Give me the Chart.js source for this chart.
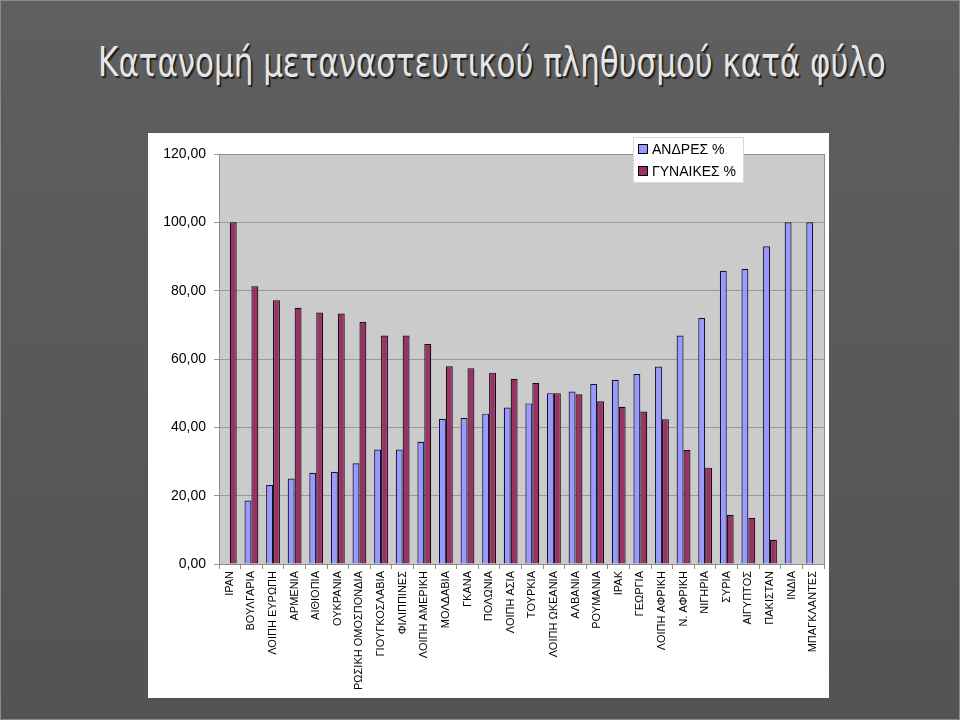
<!DOCTYPE html>
<html>
<head>
<meta charset="utf-8">
<script src="https://cdn.jsdelivr.net/npm/chart.js@4"></script>
<style>
  html, body { margin: 0; padding: 0; }
  body {
    width: 960px; height: 720px; overflow: hidden; position: relative;
    background: linear-gradient(#5f5f5f, #535353);
    box-sizing: border-box; border: 1px solid #8a8a8a;
  }
  #title {
    position: absolute; left: 11px; top: 38px; width: 960px; text-align: center;
    font-family: "DejaVu Sans Condensed", "Liberation Sans Narrow", sans-serif;
    font-size: 40px; color: #e6e6e6;
    text-shadow: 2px 2px 1px #1e1e1e;
  }
  #title span { display: inline-block; transform: scaleX(0.86); }
  #panel {
    position: absolute; left: 147px; top: 132px; width: 681px; height: 565px;
    background: #fff;
  }
</style>
</head>
<body>
<div id="title"><span>Κατανομή μεταναστευτικού πληθυσμού κατά φύλο</span></div>
<div id="panel"><canvas id="chart" width="681" height="565"></canvas></div>
<script>
let countries = ['ΙΡΑΝ','ΒΟΥΛΓΑΡΙΑ','ΛΟΙΠΗ ΕΥΡΩΠΗ','ΑΡΜΕΝΙΑ','ΑΙΘΙΟΠΙΑ','ΟΥΚΡΑΝΙΑ',
  'ΡΩΣΙΚΗ ΟΜΟΣΠΟΝΔΙΑ','ΓΙΟΥΓΚΟΣΛΑΒΙΑ','ΦΙΛΙΠΠΙΝΕΣ','ΛΟΙΠΗ ΑΜΕΡΙΚΗ','ΜΟΛΔΑΒΙΑ','ΓΚΑΝΑ',
  'ΠΟΛΩΝΙΑ','ΛΟΙΠΗ ΑΣΙΑ','ΤΟΥΡΚΙΑ','ΛΟΙΠΗ ΩΚΕΑΝΙΑ','ΑΛΒΑΝΙΑ','ΡΟΥΜΑΝΙΑ','ΙΡΑΚ',
  'ΓΕΩΡΓΙΑ','ΛΟΙΠΗ ΑΦΡΙΚΗ','Ν. ΑΦΡΙΚΗ','ΝΙΓΗΡΙΑ','ΣΥΡΙΑ','ΑΙΓΥΠΤΟΣ','ΠΑΚΙΣΤΑΝ',
  'ΙΝΔΙΑ','ΜΠΑΓΚΛΑΝΤΕΣ'];

let men = [0, 18.6, 23.1, 25.0, 26.7, 27.0, 29.5, 33.5, 33.5, 35.8, 42.5, 42.7,
  44.0, 45.8, 47.0, 50.0, 50.5, 52.7, 53.9, 55.6, 57.8, 66.9, 72.0, 85.8, 86.4,
  93.0, 100, 100];

let women = [100, 81.3, 77.2, 75.0, 73.6, 73.3, 70.8, 66.9, 66.9, 64.4, 57.9, 57.3,
  56.0, 54.2, 53.0, 50.0, 49.7, 47.6, 46.0, 44.6, 42.4, 33.4, 28.2, 14.4, 13.5,
  7.1, 0, 0];

let seriesNames = ['ΑΝΔΡΕΣ %', 'ΓΥΝΑΙΚΕΣ %'];

// grey plot area + border, then the boxed legend on top
let plotBg = {
  id: 'plotBg',
  beforeDraw(chart) {
    let a = chart.chartArea, c = chart.ctx;
    c.save();
    c.fillStyle = '#cbcbcb';
    c.fillRect(a.left, a.top, a.right - a.left, a.bottom - a.top);
    c.restore();
  },
  afterDraw(chart) {
    let a = chart.chartArea, c = chart.ctx;
    c.save();
    c.strokeStyle = '#8c8c8c';
    c.lineWidth = 1;
    c.strokeRect(a.left + 0.5, a.top + 0.5, a.right - a.left, a.bottom - a.top);

    // legend
    let lx = 485, ly = 4, lw = 110, lh = 45;
    c.fillStyle = '#fff';
    c.fillRect(lx, ly, lw, lh);
    c.strokeStyle = '#d8d8d8';
    c.strokeRect(lx + 0.5, ly + 0.5, lw, lh);
    c.font = '14px "Liberation Sans", Arial, sans-serif';
    c.textBaseline = 'middle';
    chart.data.datasets.forEach((ds, i) => {
      let y = ly + 12 + i * 22;
      c.fillStyle = ds.backgroundColor;
      c.fillRect(lx + 5, y - 5, 10, 10);
      c.strokeStyle = '#000';
      c.strokeRect(lx + 5.5, y - 4.5, 9, 9);
      c.fillStyle = '#000';
      c.fillText(ds.label, lx + 19, y + 1);
    });
    c.restore();
  }
};

new Chart(document.getElementById('chart').getContext('2d'), {
  type: 'bar',
  data: {
    labels: countries,
    datasets: [{
      label: seriesNames[0],
      data: men,
      backgroundColor: '#9999ff',
      borderColor: '#14143a',
      borderWidth: 1.2,
      barPercentage: 1,
      categoryPercentage: 0.64
    }, {
      label: seriesNames[1],
      data: women,
      backgroundColor: '#993366',
      borderColor: '#1a0a12',
      borderWidth: 1.2,
      barPercentage: 1,
      categoryPercentage: 0.64
    }]
  },
  options: {
    responsive: false,
    animation: false,
    layout: { padding: { left: 0, top: 21, right: 5, bottom: 0 } },
    plugins: {
      legend: { display: false },
      tooltip: { enabled: false }
    },
    scales: {
      x: {
        grid: { drawOnChartArea: false, drawTicks: true, tickLength: 5, color: '#8c8c8c' },
        border: { color: '#8c8c8c' },
        ticks: {
          autoSkip: false, maxRotation: 90, minRotation: 90, padding: 2,
          color: '#000',
          font: { family: '"Liberation Sans", Arial, sans-serif', size: 11 }
        },
        afterFit(scale) { scale.height = 134; }
      },
      y: {
        min: 0,
        max: 120,
        grid: { color: '#9a9a9a', tickLength: 5 },
        border: { color: '#8c8c8c' },
        ticks: {
          stepSize: 20, padding: 8, color: '#000',
          font: { family: '"Liberation Sans", Arial, sans-serif', size: 14 },
          callback: v => v.toFixed(2).replace('.', ',')
        },
        afterFit(scale) { scale.width = 71; }
      }
    }
  },
  plugins: [plotBg]
});
</script>
</body>
</html>
